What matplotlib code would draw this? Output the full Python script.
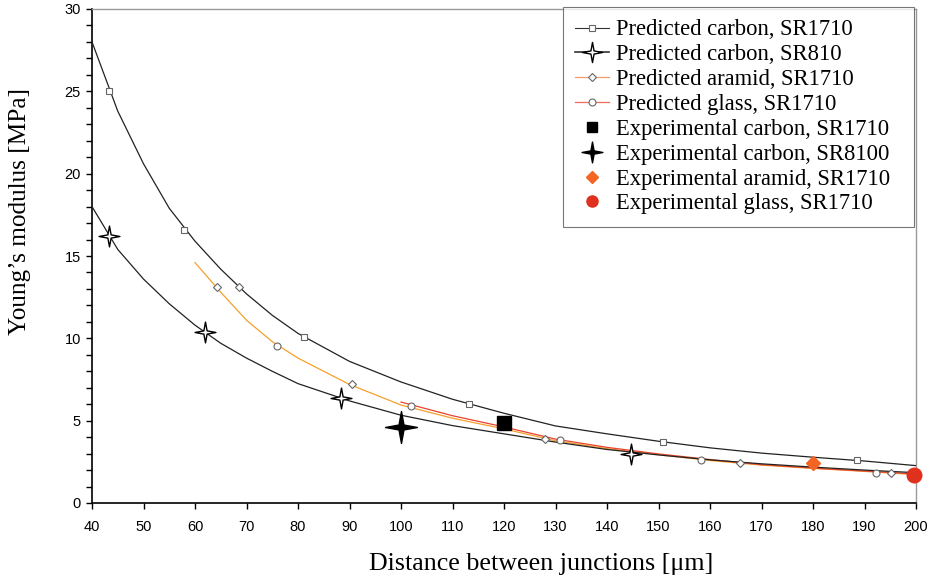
import matplotlib
matplotlib.use("Agg")
import matplotlib.pyplot as plt
from matplotlib.path import Path

# smooth model curves
line_x = [40, 45, 50, 55, 60, 65, 70, 75, 80, 90, 100, 110, 120, 130, 140, 150, 160, 170, 180, 190, 200]
carbon1710_line = [28.0, 23.8, 20.6, 17.9, 15.9, 14.2, 12.7, 11.4, 10.3, 8.6, 7.35, 6.3, 5.45, 4.68, 4.2, 3.75, 3.35, 3.03, 2.78, 2.55, 2.27]
carbon810_line = [18.0, 15.4, 13.6, 12.1, 10.8, 9.7, 8.8, 8.0, 7.25, 6.2, 5.33, 4.7, 4.2, 3.7, 3.25, 2.92, 2.62, 2.38, 2.18, 2.0, 1.84]

aramid_x = [60, 65, 70, 75, 80, 90, 100, 110, 120, 130, 140, 150, 160, 170, 180, 190, 200]
aramid_line = [14.6, 12.8, 11.1, 9.8, 8.8, 7.2, 5.95, 5.15, 4.5, 3.78, 3.3, 2.93, 2.58, 2.3, 2.1, 1.92, 1.72]

glass_x = [100, 110, 120, 130, 140, 150, 160, 170, 180, 190, 200]
glass_line = [6.13, 5.3, 4.62, 3.88, 3.38, 2.98, 2.64, 2.33, 2.12, 1.94, 1.76]

# predicted points (markers)
carbon1710_px = [43.3, 57.9, 81.1, 113.2, 150.9, 188.6]
carbon1710_py = [25.0, 16.6, 10.1, 6.0, 3.72, 2.6]
carbon810_px = [43.3, 61.9, 88.3, 144.7]
carbon810_py = [16.2, 10.4, 6.4, 3.0]
aramid_px = [64.2, 68.5, 90.4, 127.9, 165.8, 195.1]
aramid_py = [13.1, 13.1, 7.2, 3.9, 2.42, 1.82]
glass_px = [75.9, 101.9, 130.9, 158.3, 192.2]
glass_py = [9.53, 5.91, 3.85, 2.63, 1.8]

# experimental points
exp_carbon1710 = (120, 4.85)
exp_carbon8100 = (100, 4.6)
exp_aramid = (180, 2.42)
exp_glass = (199.6, 1.68)

star4 = Path.unit_regular_star(4, 0.22)
serif = ['Liberation Serif', 'DejaVu Serif']
narrow = ['Liberation Sans Narrow', 'Liberation Sans', 'DejaVu Sans']

orange = '#f5a02c'
red = '#e8432e'
grey = '#666666'

fig = plt.figure(figsize=(9.34, 5.79), dpi=100)
ax = fig.add_axes([92 / 934, 76 / 579, 824 / 934, 494 / 579])

ax.plot(line_x, carbon1710_line, color='#222222', lw=0.9, zorder=3)
ax.plot(line_x, carbon810_line, color='#222222', lw=0.9, zorder=3)
ax.plot(aramid_x, aramid_line, color=orange, lw=0.9, zorder=2)
ax.plot(glass_x, glass_line, color=red, lw=0.9, zorder=2)

ax.plot(carbon1710_px, carbon1710_py, ls='none', marker='s', ms=5, mfc='white', mec=grey, mew=0.8, zorder=4)
ax.plot(carbon810_px, carbon810_py, ls='none', marker=star4, ms=15, mfc='white', mec='black', mew=1.0, zorder=4)
ax.plot(aramid_px, aramid_py, ls='none', marker='D', ms=4.2, mfc='white', mec=grey, mew=0.8, zorder=4)
ax.plot(glass_px, glass_py, ls='none', marker='o', ms=5, mfc='white', mec=grey, mew=0.8, zorder=4)

ax.plot(*exp_carbon1710, ls='none', marker='s', ms=9.5, color='black', zorder=5)
ax.plot(*exp_carbon8100, ls='none', marker=star4, ms=23, color='black', zorder=5)
ax.plot(*exp_aramid, ls='none', marker='D', ms=7.5, color='#f26522', zorder=5)
ax.plot(*exp_glass, ls='none', marker='o', ms=10.5, color='#e0301e', zorder=5, clip_on=False)

# legend handles
h = []
h.append(ax.plot([], [], color='#333333', lw=0.8, marker='s', ms=5, mfc='white', mec=grey, mew=0.8)[0])
h.append(ax.plot([], [], color='#333333', lw=1.2, marker=star4, ms=14.5, mfc='white', mec='black', mew=1.0)[0])
h.append(ax.plot([], [], color='#f39a6b', lw=0.9, marker='D', ms=4.5, mfc='white', mec=grey, mew=0.8)[0])
h.append(ax.plot([], [], color='#ee6a5a', lw=0.9, marker='o', ms=5, mfc='white', mec=grey, mew=0.8)[0])
h.append(ax.plot([], [], ls='none', marker='s', ms=7.5, color='black')[0])
h.append(ax.plot([], [], ls='none', marker=star4, ms=15, color='black')[0])
h.append(ax.plot([], [], ls='none', marker='D', ms=6.5, color='#f26522')[0])
h.append(ax.plot([], [], ls='none', marker='o', ms=8, color='#e0301e')[0])
labels = ['Predicted carbon, SR1710', 'Predicted carbon, SR810', 'Predicted aramid, SR1710',
          'Predicted glass, SR1710', 'Experimental carbon, SR1710', 'Experimental carbon, SR8100',
          'Experimental aramid, SR1710', 'Experimental glass, SR1710']
leg = ax.legend(h, labels, loc='upper left', bbox_to_anchor=(0.5716, 0, 0.426, 1.004), mode='expand',
                borderaxespad=0, prop={'family': serif, 'size': 16.3}, frameon=True, fancybox=False,
                handlelength=1.5, handletextpad=0.3, labelspacing=0.17, borderpad=0.55)
leg.get_frame().set_edgecolor('#555555')
leg.get_frame().set_linewidth(0.8)

ax.set_xlim(40, 200)
ax.set_ylim(0, 30)
ax.set_xticks(range(40, 201, 10))
ax.set_yticks(range(0, 31, 5))
ax.set_yticks(range(0, 31), minor=True)
ax.tick_params(axis='both', which='both', direction='out', length=4, width=1, labelsize=10.5)
ax.tick_params(axis='x', pad=8)
ax.tick_params(axis='y', pad=4)
for lbl in ax.get_xticklabels() + ax.get_yticklabels():
    lbl.set_family(narrow)

for side in ['top', 'right']:
    ax.spines[side].set_color('#999999')
    ax.spines[side].set_linewidth(1)
for side in ['bottom', 'left']:
    ax.spines[side].set_color('black')
    ax.spines[side].set_linewidth(1.2)

ax.set_xlabel('Distance between junctions [μm]', family=serif, fontsize=18.7)
ax.set_ylabel('Young’s modulus [MPa]', family=serif, fontsize=18.2)
ax.xaxis.set_label_coords(0.545, -0.101)
ax.yaxis.set_label_coords(-0.074, 0.59)

fig.savefig('out.png', dpi=100)
